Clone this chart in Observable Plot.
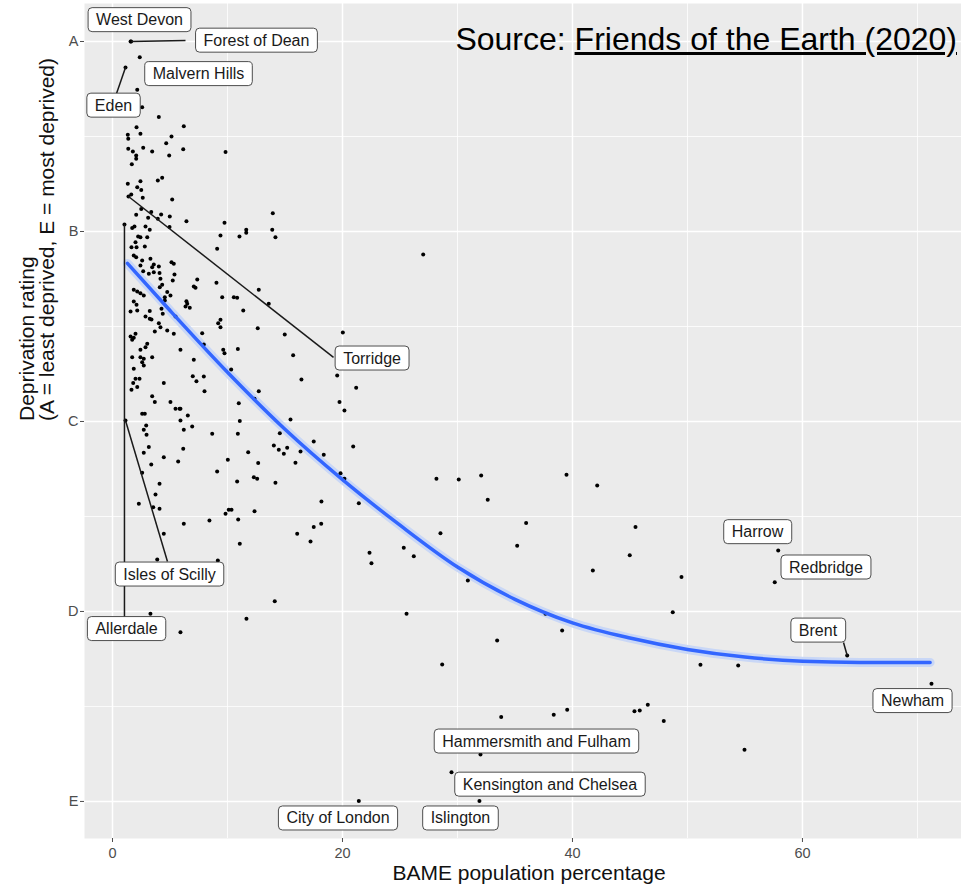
<!DOCTYPE html>
<html><head><meta charset="utf-8">
<script src="https://cdn.jsdelivr.net/npm/d3@7"></script>
<script src="https://cdn.jsdelivr.net/npm/@observablehq/plot@0.6"></script>
<style>
body{margin:0;background:#fff;}
#wrap{position:relative;width:961px;height:891px;}
#source{position:absolute;right:4px;top:23px;font-family:"Liberation Sans",Arial,sans-serif;font-size:32px;line-height:32px;color:#000;white-space:nowrap;}
#source u{text-decoration:underline;}
</style></head><body>
<div id="wrap"><div id="source">Source: <u>Friends of the Earth (2020)</u></div></div>
<script>
// ---- data ----
const xTicks = [0, 20, 40, 60];
const xMinorTicks = [10, 30, 50, 70];
const yTicks = [1, 2, 3, 4, 5];
const yMinorTicks = [1.5, 2.5, 3.5, 4.5];
const yTickLabels = ["A", "B", "C", "D", "E"];

// [BAME population %, deprivation score (1 = A ... 5 = E)]
const districts = [
[2.15,1.254],[2.58,1.346],[4.03,1.398],[2.09,1.451],[2.43,1.486],[6.2,1.446],[1.33,1.491],[1.37,1.512],[5.13,1.5],[4.67,1.535],[1.37,1.565],[1.77,1.579],[2.67,1.559],[3.45,1.579],[6.15,1.567],[4.93,1.6],[2.06,1.6],[2.06,1.617],[1.68,1.646],[9.83,1.581],
[1.33,1.749],[2.43,1.735],[3.94,1.732],[4.32,1.717],[2.15,1.767],[2.5,1.781],[1.63,1.805],[2.63,1.823],[5.19,1.832],[2.5,1.881],[3.37,1.898],[2.06,1.912],[3.1,1.928],[4.23,1.911],[3.94,1.933],[4.98,1.921],[6.43,1.946],[9.74,1.954],[1.71,1.981],[1.91,1.974],
[2.87,1.974],[3.24,1.991],[4.96,1.977],[9.39,2.021],[11.04,2.026],[11.63,1.991],[11.63,2.007],[2.23,2.026],[2.43,2.03],[2.0,2.056],[3.02,2.03],[1.65,2.083],[2.09,2.083],[2.81,2.079],[9.1,2.091],[1.85,2.126],[2.06,2.135],[3.3,2.144],[13.94,1.904],[13.89,1.991],
[14.17,2.03],[12.72,2.307],[27.02,2.121],[7.37,2.253],[7.07,2.289],[7.22,2.296],[9.04,2.27],[9.54,2.346],[10.55,2.346],[10.84,2.349],[6.43,2.367],[6.35,2.395],[6.72,2.402],[13.59,2.381],[11.37,2.416],[9.39,2.465],[9.19,2.483],[9.39,2.504],[12.63,2.509],[20.03,2.532],
[7.8,2.535],[14.98,2.542],[7.94,2.595],[9.63,2.623],[9.74,2.641],[10.9,2.619],[5.91,2.623],[15.71,2.651],[7.07,2.675],[10.32,2.726],[19.54,2.758],[16.43,2.779],[6.98,2.762],[7.94,2.763],[7.3,2.788],[21.19,2.823],[8.0,2.841],[12.72,2.841],[12.35,2.881],[10.98,2.904],
[19.74,2.898],[20.17,2.942],[5.91,2.933],[6.55,2.968],[5.91,2.995],[11.07,2.998],[15.48,2.989],[6.93,3.026],
[2.58,2.153],[3.59,2.174],[3.45,2.188],[4.03,2.184],[5.13,2.162],[5.33,2.17],[2.43,2.179],[2.67,2.209],[3.59,2.214],[3.16,2.223],[4.09,2.219],[5.39,2.226],[4.17,2.249],[5.24,2.258],[4.32,2.281],[4.11,2.293],[1.85,2.307],[2.15,2.316],[2.43,2.325],[2.72,2.337],
[4.76,2.319],[5.04,2.337],[4.55,2.346],[4.55,2.363],[6.5,2.381],[1.85,2.368],[2.09,2.386],[1.57,2.421],[2.15,2.416],[3.24,2.419],[4.26,2.407],[2.87,2.447],[3.24,2.459],[3.39,2.463],[4.37,2.433],[5.48,2.447],[4.03,2.483],[4.17,2.504],[4.76,2.521],[3.68,2.526],
[5.33,2.538],[1.57,2.553],[1.85,2.559],[1.71,2.57],[2.0,2.538],[3.02,2.591],[2.87,2.609],[2.43,2.623],[1.71,2.662],[2.43,2.662],[2.72,2.67],[2.58,2.688],[2.72,2.705],[3.45,2.662],[1.85,2.723],[2.0,2.775],[2.35,2.775],[1.8,2.798],[2.15,2.819],[1.65,2.833],
[4.46,2.798],[3.45,2.867],[3.68,2.898],[5.04,2.898],[5.48,2.933],[5.83,2.933],[2.81,2.959],[2.58,2.959],
[6.2,3.044],[2.93,3.021],[2.72,3.044],[2.96,3.07],[3.16,3.135],[2.72,3.165],[4.46,3.188],[3.37,3.226],[6.15,3.144],[5.71,3.211],[8.67,3.065],[10.9,3.065],[14.55,3.062],[14.03,3.126],[14.46,3.149],[14.9,3.17],[15.19,3.138],[11.8,3.162],[12.67,3.219],[10.03,3.202],
[9.1,3.263],[15.91,3.217],[2.58,3.27],[4.09,3.328],[10.84,3.316],[12.29,3.293],[12.58,3.302],[14.17,3.323],[3.74,3.384],[2.29,3.433],[3.54,3.451],[4.09,3.459],[10.11,3.465],[10.35,3.465],[9.83,3.486],[12.35,3.472],[8.43,3.521],[10.93,3.516],[6.2,3.538],[4.46,3.591],
[16.06,3.591],[11.07,3.644],[3.89,3.726],[9.16,3.732],[14.11,3.946],[3.3,4.012],[11.65,4.038],[5.91,4.109],
[17.5,3.556],[18.15,3.538],[17.22,3.632],[18.17,3.421],[21.42,3.43],[22.35,3.691],[22.52,3.746],[16.35,3.158],[17.5,3.105],[18.37,3.175],[19.83,3.272],[20.17,3.302],[20.93,3.132],
[28.17,3.302],[30.11,3.305],[32.06,3.284],[32.63,3.412],[28.52,3.588],[25.33,3.665],[26.2,3.709],[30.9,3.837],[35.97,3.535],[35.19,3.654],[39.48,3.281],[42.15,3.337],[45.48,3.556],[44.98,3.704],[41.77,3.784],[49.48,3.819],[25.57,4.012],[37.65,4.012],[39.1,4.1],[33.45,4.153],
[28.67,4.279],[48.72,4.004],[51.13,4.281],[54.41,4.284],[54.96,4.728],[33.8,4.556],[38.37,4.544],[39.54,4.517],[45.39,4.525],[45.85,4.521],[46.55,4.491],[47.94,4.577]
];

// labelled local authorities
const areaNames = ["West Devon","Forest of Dean","Malvern Hills","Eden","Torridge","Allerdale","Isles of Scilly","Harrow","Redbridge","Brent","Newham","Hammersmith and Fulham","Kensington and Chelsea","Islington","City of London"];
const areaBame = [1.57,1.62,2.37,1.13,1.39,1.04,1.13,57.89,57.59,63.89,71.22,32.0,29.48,31.91,21.42];
const areaDepriv = [1.0,1.0,1.083,1.137,1.816,1.963,2.995,3.679,3.846,4.232,4.381,4.753,4.846,4.998,4.998];

// repelled label placement (layout, in data units) and leader-line ends
const labelAtX = [2.35,12.52,7.48,0.09,22.57,1.22,4.96,56.09,62.04,61.35,69.57,36.87,38.04,30.26,19.61];
const labelAtY = [0.887,0.995,1.171,1.337,2.668,4.092,3.805,3.582,3.768,4.1,4.471,4.684,4.911,5.089,5.089];
const leaderEndX = [null,6.35,null,0.35,19.22,1.04,4.78,null,null,63.57,null,null,null,null,null];
const leaderEndY = [null,0.995,null,1.274,2.663,4.032,3.737,null,null,4.163,null,null,null,null,null];

// loess fit
const fitBame = [1.3, 5, 10, 15, 20, 25, 30, 35, 40, 45, 50, 55, 60, 65, 71.1];
const fitDepriv = [2.168, 2.416, 2.741, 3.041, 3.306, 3.546, 3.766, 3.936, 4.06, 4.14, 4.20, 4.24, 4.262, 4.268, 4.268];

// ---- tables ----
const areas = areaNames.map((name, i) => ({name, x: areaBame[i], y: areaDepriv[i], lx: labelAtX[i], ly: labelAtY[i], sx: leaderEndX[i], sy: leaderEndY[i]}));
const fit = fitBame.map((x, i) => ({x, y: fitDepriv[i]}));

const chart = Plot.plot({
  width: 961, height: 891,
  marginLeft: 84, marginRight: 0, marginTop: 3, marginBottom: 53,
  style: {fontFamily: "'Liberation Sans', Arial, sans-serif", background: "white", overflow: "visible"},
  x: {domain: [-2.435, 73.83]},
  y: {domain: [5.195, 0.8]},
  marks: [
    Plot.frame({fill: "#EBEBEB", stroke: "none"}),
    Plot.ruleX(xMinorTicks, {stroke: "white", strokeWidth: 0.8}),
    Plot.ruleY(yMinorTicks, {stroke: "white", strokeWidth: 0.8}),
    Plot.ruleX(xTicks, {stroke: "white", strokeWidth: 1.5}),
    Plot.ruleY(yTicks, {stroke: "white", strokeWidth: 1.5}),
    Plot.line(fit, {x: "x", y: "y", stroke: "#c9d7f6", strokeWidth: 9, curve: "monotone-x"}),
    Plot.dot(districts, {x: d => d[0], y: d => d[1], r: 2, fill: "black", stroke: "none"}),
    Plot.dot(areas, {x: "x", y: "y", r: 2, fill: "black", stroke: "none"}),
    Plot.line(fit, {x: "x", y: "y", stroke: "#3366FF", strokeWidth: 3.5, curve: "monotone-x"}),
    Plot.link(areas.filter(d => d.sx != null), {x1: "x", y1: "y", x2: "sx", y2: "sy", stroke: "#1a1a1a", strokeWidth: 1.5}),
    Plot.text(areas, {x: "lx", y: "ly", text: "name", fontSize: 16, fill: "#1a1a1a"}),
    Plot.axisX(xTicks, {tickSize: 4, tickPadding: 5, fontSize: 14.5, color: "#4D4D4D", label: null}),
    Plot.axisY(yTicks, {tickSize: 4, tickPadding: 2, fontSize: 14.5, color: "#4D4D4D", label: null, tickFormat: d => yTickLabels[d - 1]}),
    Plot.text(["BAME population percentage"], {frameAnchor: "bottom", dy: 41, dx: 6, fontSize: 21, fill: "#111"}),
    Plot.text(["Deprivation rating"], {frameAnchor: "left", dx: -57, rotate: -90, fontSize: 21, fill: "#111"}),
    Plot.text(["(A = least deprived, E = most deprived)"], {frameAnchor: "left", dx: -37, rotate: -90, fontSize: 21, fill: "#111"})
  ]
});

const wrap = document.getElementById("wrap");
wrap.insertBefore(chart, document.getElementById("source"));

// label boxes (ggrepel-style)
const nameSet = new Set(areaNames);
chart.querySelectorAll("text").forEach(t => {
  if (!nameSet.has(t.textContent)) return;
  const b = t.getBBox();
  const r = document.createElementNS("http://www.w3.org/2000/svg", "rect");
  r.setAttribute("x", b.x - 8);
  r.setAttribute("y", b.y - 3.5);
  r.setAttribute("width", b.width + 16);
  r.setAttribute("height", b.height + 7);
  r.setAttribute("rx", 4);
  r.setAttribute("fill", "white");
  r.setAttribute("stroke", "#3a3a3a");
  r.setAttribute("stroke-width", 0.9);
  const tr = t.getAttribute("transform");
  if (tr) r.setAttribute("transform", tr);
  t.parentNode.insertBefore(r, t);
});
</script>
</body></html>
